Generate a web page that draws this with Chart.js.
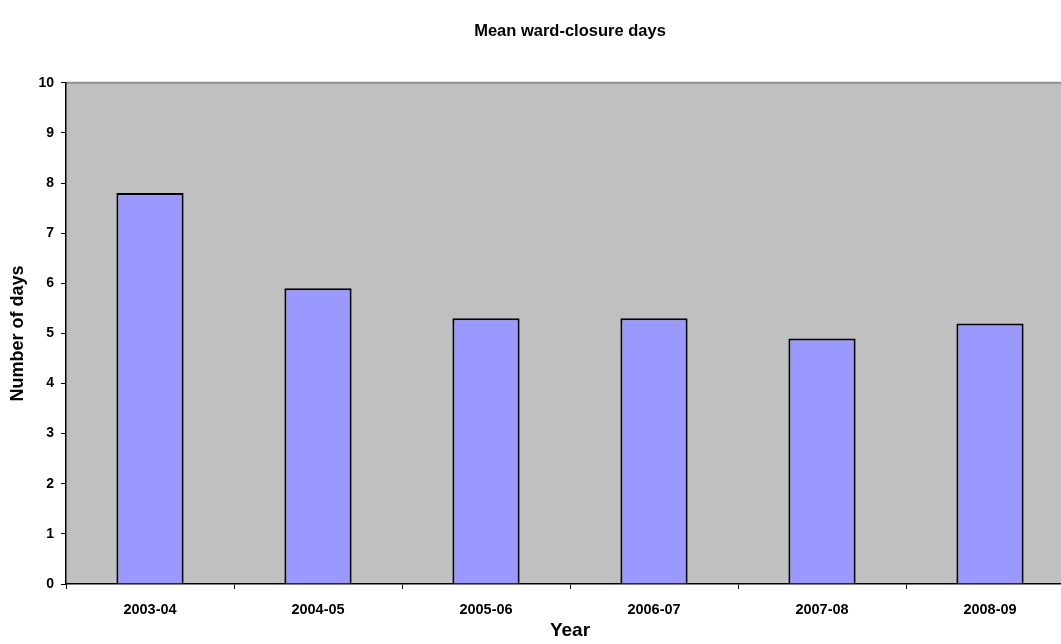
<!DOCTYPE html>
<html lang="en">
<head>
    <meta charset="UTF-8">
    <title>Mean ward-closure days</title>
    <style>
        html, body { margin: 0; padding: 0; background: #fff; overflow: hidden; }
        .chartBox { width: 1080px; height: 644px; }
    </style>
</head>
<body>
    <div class="chartBox">
        <canvas id="closureChart" width="1080" height="644"></canvas>
    </div>
<script src="https://cdn.jsdelivr.net/npm/chart.js"></script>
<script>
    const years = ['2003-04', '2004-05', '2005-06', '2006-07', '2007-08', '2008-09'];
    const meanDays = [7.8, 5.9, 5.3, 5.3, 4.9, 5.2];
    const yTicks = [0, 1, 2, 3, 4, 5, 6, 7, 8, 9, 10];

    const font = 'Liberation Sans, Arial, sans-serif';

    // grey plot area like the old Excel chart
    const plotBg = {
        id: 'plotBg',
        beforeDraw(chart) {
            const { ctx, chartArea: a } = chart;
            ctx.save();
            ctx.fillStyle = '#c0c0c0';
            ctx.fillRect(a.left, a.top, a.right - a.left, a.bottom - a.top);
            ctx.strokeStyle = '#909090';
            ctx.lineWidth = 2;
            ctx.beginPath();
            ctx.moveTo(a.left, a.top);
            ctx.lineTo(a.right, a.top);
            ctx.stroke();
            ctx.restore();
        }
    };

    const ctx = document.getElementById('closureChart').getContext('2d');
    new Chart(ctx, {
        type: 'bar',
        data: {
            labels: years,
            datasets: [{
                data: meanDays,
                backgroundColor: '#9999ff',
                borderColor: '#000',
                borderWidth: 2,
                barPercentage: 0.4,
                categoryPercentage: 1
            }]
        },
        options: {
            responsive: false,
            animation: false,
            layout: { padding: { left: 0, right: 6, top: 0, bottom: 0 } },
            plugins: {
                legend: { display: false },
                tooltip: { enabled: false },
                title: {
                    display: true,
                    fullSize: false,
                    text: 'Mean ward-closure days',
                    color: '#000',
                    font: { family: font, size: 16.5, weight: 'bold' },
                    padding: { top: 22, bottom: 41 }
                }
            },
            scales: {
                x: {
                    offset: true,
                    afterFit(s) { s.height = 60; },
                    grid: { offset: true, drawOnChartArea: false, color: '#000', tickLength: 5 },
                    border: { color: '#000', width: 1.5 },
                    ticks: { color: '#000', padding: 12, font: { family: font, size: 14.5, weight: 'bold' } },
                    title: {
                        display: true, text: 'Year', color: '#000',
                        font: { family: font, size: 19, weight: 'bold' },
                        padding: { top: 0, bottom: 2 }
                    }
                },
                y: {
                    min: 0,
                    max: 10,
                    afterFit(s) { s.width = 66; },
                    afterBuildTicks(s) { s.ticks = yTicks.map(v => ({ value: v })); },
                    grid: { drawOnChartArea: false, color: '#000', tickLength: 5 },
                    border: { color: '#000', width: 1.5 },
                    ticks: { color: '#000', padding: 7, font: { family: font, size: 14, weight: 'bold' } },
                    title: {
                        display: true, text: 'Number of days', color: '#000',
                        font: { family: font, size: 18, weight: 'bold' },
                        padding: { top: 7, bottom: 0 }
                    }
                }
            }
        },
        plugins: [plotBg]
    });
</script>
</body>
</html>
